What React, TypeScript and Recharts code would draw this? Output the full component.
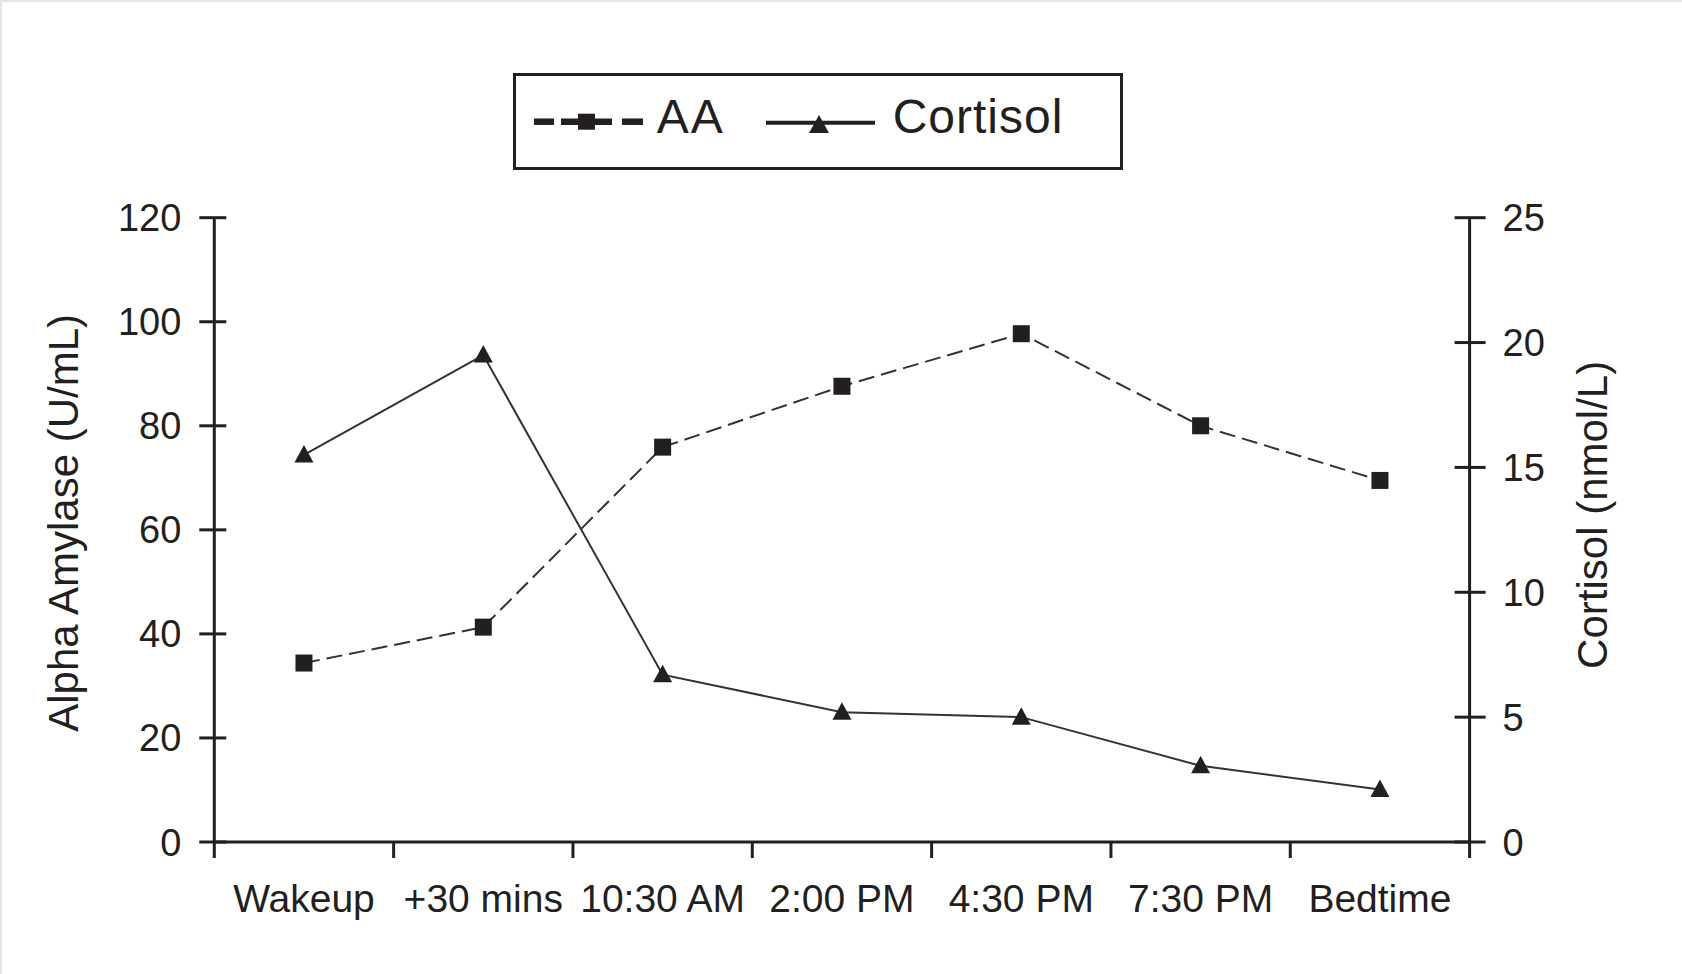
import React from 'react';
import { LineChart, Line, XAxis, YAxis, Legend } from 'recharts';

const categories = ['Wakeup', '+30 mins', '10:30 AM', '2:00 PM', '4:30 PM', '7:30 PM', 'Bedtime'];
const amylase = [34.4, 41.3, 75.9, 87.6, 97.7, 80, 69.5];
const cortisol = [15.5, 19.5, 6.7, 5.2, 5.0, 3.05, 2.1];
const leftTicks = [0, 20, 40, 60, 80, 100, 120];
const rightTicks = [0, 5, 10, 15, 20, 25];

const data = categories.map((name, i) => ({ name, aa: amylase[i], cortisol: cortisol[i] }));

const INK = '#231f20';
const FONT = '"Liberation Sans", Arial, Helvetica, sans-serif';

const SquareDot = (props: any) => {
  const { cx, cy, index } = props;
  if (cx == null || cy == null) return null;
  return <rect key={`sq-${index}`} x={cx - 8.5} y={cy - 8.5} width={17} height={17} fill={INK} />;
};

const TriangleDot = (props: any) => {
  const { cx, cy, index } = props;
  if (cx == null || cy == null) return null;
  return (
    <path
      key={`tri-${index}`}
      d={`M${cx},${cy - 10} L${cx + 9.5},${cy + 7.5} L${cx - 9.5},${cy + 7.5} Z`}
      fill={INK}
    />
  );
};

// ticks between categories, labels centred in each band
const XTick = (props: any) => {
  const { x, y, payload, index, visibleTicksCount, width } = props;
  const half = payload.offset ?? width / visibleTicksCount / 2;
  const last = index === visibleTicksCount - 1;
  return (
    <g>
      <line x1={x - half} x2={x - half} y1={y} y2={y + 16} stroke={INK} strokeWidth={3} />
      {last && <line x1={x + half} x2={x + half} y1={y} y2={y + 16} stroke={INK} strokeWidth={3} />}
      <text x={x} y={y + 70} textAnchor="middle" fontSize={39} fontFamily={FONT} fill={INK}>
        {payload.value}
      </text>
    </g>
  );
};

const LeftTick = (props: any) => {
  const { x, y, payload } = props;
  return (
    <g>
      <line x1={x - 15} x2={x + 12} y1={y} y2={y} stroke={INK} strokeWidth={3} />
      <text x={x - 33} y={y + 13.5} textAnchor="end" fontSize={38} fontFamily={FONT} fill={INK}>
        {payload.value}
      </text>
    </g>
  );
};

const RightTick = (props: any) => {
  const { x, y, payload } = props;
  return (
    <g>
      <line x1={x - 15} x2={x + 16} y1={y} y2={y} stroke={INK} strokeWidth={3} />
      <text x={x + 33} y={y + 13.5} textAnchor="start" fontSize={38} fontFamily={FONT} fill={INK}>
        {payload.value}
      </text>
    </g>
  );
};

const axisTitle = (text: string, dx: number, dy: number) => (props: any) => {
  const vb = props.viewBox || {};
  const tx = vb.x + dx;
  const ty = vb.y + vb.height / 2 + dy;
  return (
    <text
      transform={`translate(${tx},${ty}) rotate(-90)`}
      textAnchor="middle"
      fontSize={42}
      fontFamily={FONT}
      fill={INK}
    >
      {text}
    </text>
  );
};

const renderLegend = () => (
  <svg width={610} height={97} style={{ display: 'block' }}>
    <rect x={1.5} y={1.5} width={607} height={94} fill="#fff" stroke={INK} strokeWidth={3} />
    <g stroke={INK} strokeWidth={6.5}>
      <line x1={21} x2={41} y1={48.7} y2={48.7} />
      <line x1={48} x2={99} y1={48.7} y2={48.7} />
      <line x1={109} x2={130} y1={48.7} y2={48.7} />
    </g>
    <rect x={65} y={40.7} width={17} height={16} fill={INK} />
    <text x={143.7} y={60.3} fontSize={48} fontFamily={FONT} fill={INK} letterSpacing={2}>AA</text>
    <line x1={253} x2={362} y1={49.7} y2={49.7} stroke={INK} strokeWidth={4} />
    <path d="M306,42 L316,60 L296,60 Z" fill={INK} />
    <text x={379.7} y={60} fontSize={48} fontFamily={FONT} fill={INK} letterSpacing={1}>Cortisol</text>
  </svg>
);

export default function App() {
  return (
    <div style={{ position: 'absolute', left: 0, top: 0, background: '#fff' }}>
      <LineChart
        width={1682}
        height={974}
        data={data}
        margin={{ top: 217.7, right: 62.4, bottom: 32, left: 64.3 }}
      >
        <XAxis
          dataKey="name"
          scale="band"
          interval={0}
          height={100}
          tickSize={0}
          tickMargin={0}
          tickLine={false}
          axisLine={{ stroke: INK, strokeWidth: 3 }}
          tick={<XTick />}
        />
        <YAxis
          yAxisId="left"
          orientation="left"
          domain={[0, 120]}
          ticks={leftTicks}
          interval={0}
          width={150}
          tickSize={0}
          tickMargin={0}
          tickLine={false}
          axisLine={{ stroke: INK, strokeWidth: 3 }}
          tick={<LeftTick />}
          label={axisTitle('Alpha Amylase (U/mL)', 14, -7)}
        />
        <YAxis
          yAxisId="right"
          orientation="right"
          domain={[0, 25]}
          ticks={rightTicks}
          interval={0}
          width={150}
          tickSize={0}
          tickMargin={0}
          tickLine={false}
          axisLine={{ stroke: INK, strokeWidth: 3 }}
          tick={<RightTick />}
          label={axisTitle('Cortisol (nmol/L)', 137.4, -15)}
        />
        <Legend
          layout="horizontal"
          verticalAlign="middle"
          align="center"
          content={renderLegend}
          wrapperStyle={{ left: 513, top: 73, width: 610, height: 97 }}
        />
        <Line
          yAxisId="left"
          type="linear"
          dataKey="aa"
          name="AA"
          stroke="#333"
          strokeWidth={2}
          strokeDasharray="16 7"
          dot={SquareDot}
          activeDot={false}
          isAnimationActive={false}
        />
        <Line
          yAxisId="right"
          type="linear"
          dataKey="cortisol"
          name="Cortisol"
          stroke="#333"
          strokeWidth={2}
          dot={TriangleDot}
          activeDot={false}
          isAnimationActive={false}
        />
      </LineChart>
      {/* faint frame round the figure */}
      <div
        style={{
          position: 'absolute', left: 0, top: 0, width: 1682, height: 974,
          boxSizing: 'border-box', borderTop: '2px solid #e6e6dc', borderLeft: '2px solid #e6e6dc',
          pointerEvents: 'none',
        }}
      />
    </div>
  );
}
